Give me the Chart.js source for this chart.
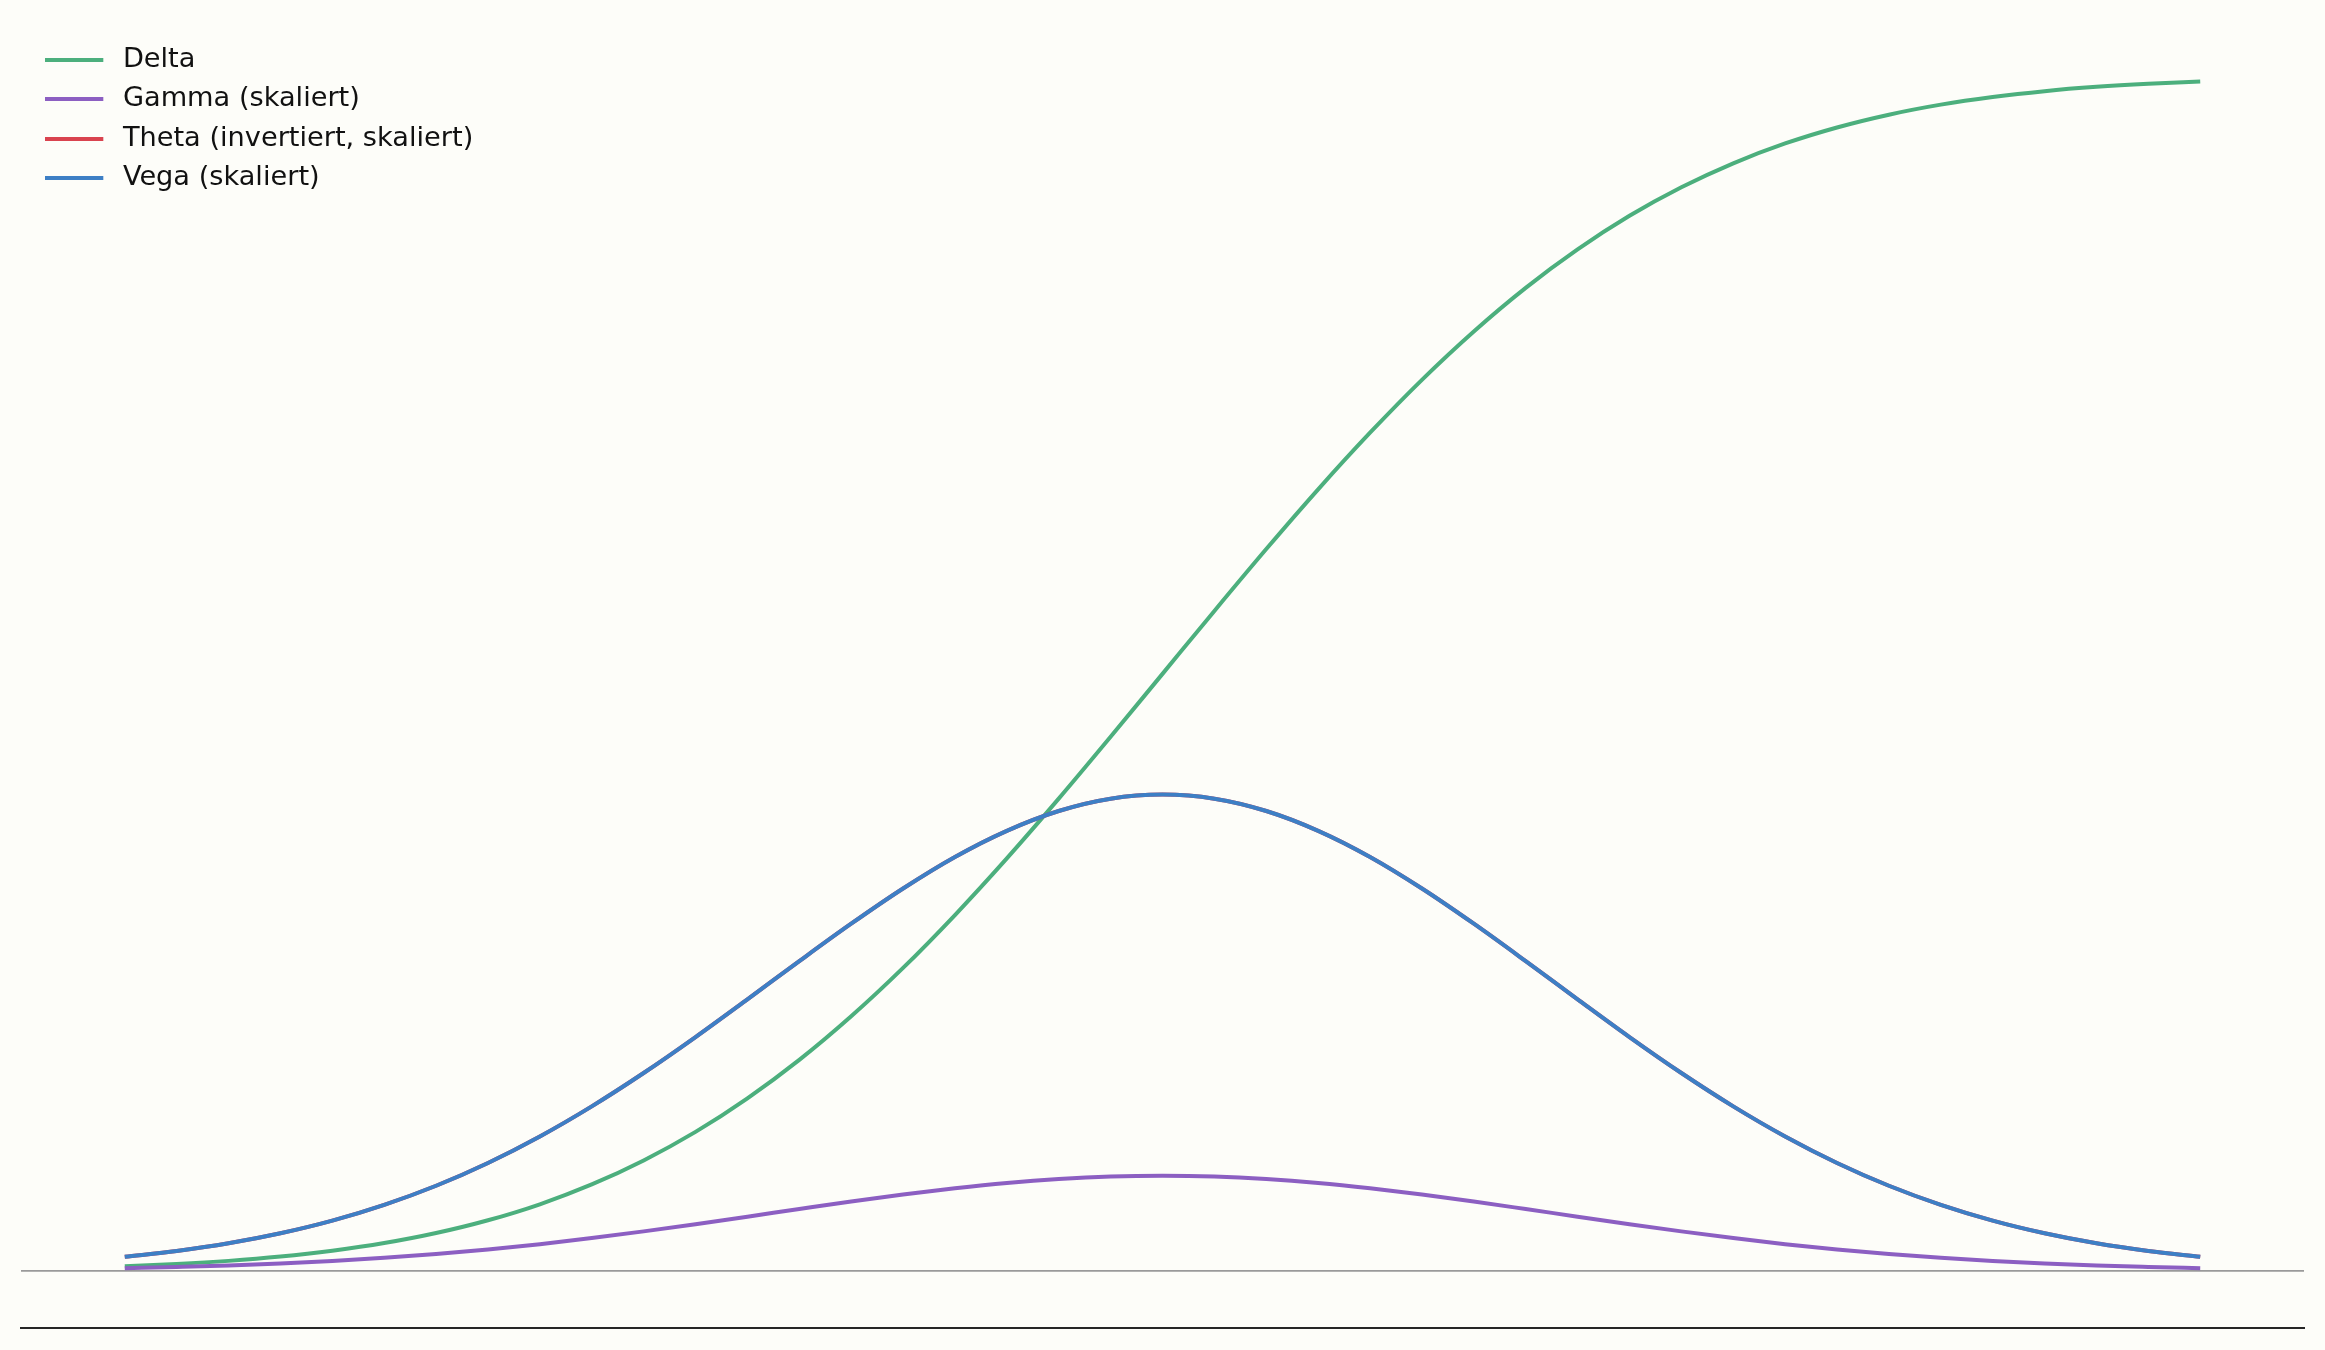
<!DOCTYPE html>
<html>
<head>
<meta charset="utf-8">
<script src="https://cdn.jsdelivr.net/npm/chart.js@4.4.1/dist/chart.umd.min.js"></script>
<style>
  html, body { margin: 0; padding: 0; background: #fdfdf9; }
  #wrap { width: 2325px; height: 1350px; position: relative; }
</style>
</head>
<body>
<div id="wrap"><canvas id="c"></canvas></div>
<script>
// Underlying price grid (x values)
const spot = [50, 52.5, 55, 57.5, 60, 62.5, 65, 67.5, 70, 72.5, 75, 77.5, 80, 82.5, 85, 87.5, 90, 92.5, 95, 97.5, 100,
              102.5, 105, 107.5, 110, 112.5, 115, 117.5, 120, 122.5, 125, 127.5, 130, 132.5, 135, 137.5, 140, 142.5, 145, 147.5, 150];

// Series values
const delta = [0.0040, 0.0059, 0.0085, 0.0121, 0.0170, 0.0234, 0.0318, 0.0425, 0.0559, 0.0725, 0.0926,
               0.1165, 0.1446, 0.1768, 0.2133, 0.2538, 0.2981, 0.3455, 0.3955, 0.4473, 0.5000,
               0.5527, 0.6045, 0.6545, 0.7019, 0.7462, 0.7867, 0.8232, 0.8554, 0.8835, 0.9074,
               0.9275, 0.9441, 0.9575, 0.9682, 0.9766, 0.9830, 0.9879, 0.9915, 0.9941, 0.9960];
const gammaScaled = [0.0024, 0.0034, 0.0046, 0.0063, 0.0084, 0.0111, 0.0143, 0.0181, 0.0225, 0.0276, 0.0332,
                     0.0392, 0.0455, 0.0519, 0.0582, 0.0641, 0.0693, 0.0737, 0.0770, 0.0791, 0.0798,
                     0.0791, 0.0770, 0.0737, 0.0693, 0.0641, 0.0582, 0.0519, 0.0455, 0.0392, 0.0332,
                     0.0276, 0.0225, 0.0181, 0.0143, 0.0111, 0.0084, 0.0063, 0.0046, 0.0034, 0.0024];
const thetaInvScaled = [0.0119, 0.0168, 0.0232, 0.0316, 0.0422, 0.0554, 0.0714, 0.0905, 0.1127, 0.1379, 0.1658,
                        0.1959, 0.2275, 0.2595, 0.2908, 0.3203, 0.3467, 0.3686, 0.3852, 0.3955, 0.3989,
                        0.3955, 0.3852, 0.3686, 0.3467, 0.3203, 0.2908, 0.2595, 0.2275, 0.1959, 0.1658,
                        0.1379, 0.1127, 0.0905, 0.0714, 0.0554, 0.0422, 0.0316, 0.0232, 0.0168, 0.0119];
const vegaScaled = [0.0119, 0.0168, 0.0232, 0.0316, 0.0422, 0.0554, 0.0714, 0.0905, 0.1127, 0.1379, 0.1658,
                    0.1959, 0.2275, 0.2595, 0.2908, 0.3203, 0.3467, 0.3686, 0.3852, 0.3955, 0.3989,
                    0.3955, 0.3852, 0.3686, 0.3467, 0.3203, 0.2908, 0.2595, 0.2275, 0.1959, 0.1658,
                    0.1379, 0.1127, 0.0905, 0.0714, 0.0554, 0.0422, 0.0316, 0.0232, 0.0168, 0.0119];

const seriesLabels = ['Delta', 'Gamma (skaliert)', 'Theta (invertiert, skaliert)', 'Vega (skaliert)'];
const seriesValues = [delta, gammaScaled, thetaInvScaled, vegaScaled];
const seriesColors = ['#4caf7d', '#8c5fc2', '#d9434f', '#3d7fc5'];
const drawOrder = [3, 2, 1, 0]; // later series drawn on top

const toPoints = (arr) => arr.map((v, i) => ({ x: spot[i], y: v }));

// legend swatch: a short line, left-aligned inside a slightly wider box
const SWATCH_W = 64, LINE_W = 58, LINE_H = 4;
function makeSwatch(color) {
  const cv = document.createElement('canvas');
  cv.width = SWATCH_W; cv.height = LINE_H;
  const g = cv.getContext('2d');
  g.fillStyle = color;
  g.fillRect(0, 0, LINE_W, LINE_H);
  return cv;
}
const swatches = seriesColors.map(makeSwatch);

const datasets = seriesValues.map((vals, i) => ({
  label: seriesLabels[i],
  data: toPoints(vals),
  borderColor: seriesColors[i],
  backgroundColor: seriesColors[i],
  borderWidth: 4,
  pointRadius: 0,
  pointHoverRadius: 0,
  fill: false,
  cubicInterpolationMode: 'monotone',
  order: drawOrder[i]
}));

const legendOffset = {
  id: 'legendOffset',
  afterLayout(chart) {
    const lg = chart.legend, a = chart.chartArea;
    if (lg && a) { lg.left = a.left + 12; lg.top = a.top + 12; }
  }
};

new Chart(document.getElementById('c'), {
  type: 'line',
  data: { datasets },
  plugins: [legendOffset],
  options: {
    responsive: true,
    maintainAspectRatio: false,
    devicePixelRatio: 1,
    animation: false,
    layout: { padding: { left: 21, right: 21, top: 22, bottom: 22 } },
    plugins: {
      tooltip: { enabled: false },
      title: { display: false },
      legend: {
        display: true,
        position: 'chartArea',
        align: 'start',
        labels: {
          usePointStyle: true,
          pointStyleWidth: SWATCH_W,
          boxWidth: SWATCH_W,
          boxHeight: LINE_H,
          padding: 12.3,
          color: '#111111',
          font: { family: '"DejaVu Sans", sans-serif', size: 27.2 },
          sort: (a, b) => a.datasetIndex - b.datasetIndex,
          generateLabels(chart) {
            const items = Chart.defaults.plugins.legend.labels.generateLabels(chart);
            items.forEach(it => {
              it.lineWidth = 0;
              it.fillStyle = it.strokeStyle;
              it.pointStyle = swatches[it.datasetIndex];
              it.rotation = 0;
            });
            return items;
          }
        }
      }
    },
    scales: {
      x: {
        type: 'linear',
        min: 45,
        max: 155,
        ticks: { display: false },
        grid: { display: false, drawTicks: false },
        border: { display: true, color: '#262626', width: 2 }
      },
      y: {
        type: 'linear',
        min: -0.0477,
        max: 1.0458,
        afterBuildTicks: (scale) => { scale.ticks = [{ value: 0 }]; },
        ticks: { display: false },
        grid: {
          drawTicks: false,
          color: (ctx) => (ctx.tick && ctx.tick.value === 0 ? '#9a9a9a' : 'rgba(0,0,0,0)'),
          lineWidth: 1.7
        },
        border: { display: false }
      }
    }
  }
});
</script>
</body>
</html>
